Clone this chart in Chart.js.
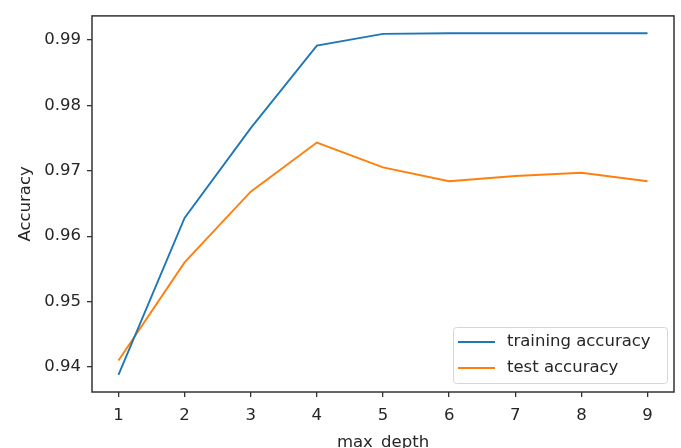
<!DOCTYPE html>
<html>
<head>
<meta charset="utf-8">
<script src="https://cdn.jsdelivr.net/npm/chart.js@4"></script>
<style>
  html, body { margin: 0; padding: 0; background: #fff; }
  #wrap { width: 681px; height: 448px; }
</style>
</head>
<body>
<div id="wrap"><canvas id="accChart" width="681" height="448"></canvas></div>
<script>
// ========== DATOS ==========
const depths = [1, 2, 3, 4, 5, 6, 7, 8, 9];
const trainAcc = [0.9388, 0.9628, 0.9765, 0.9891, 0.9909, 0.9910, 0.9910, 0.9910, 0.9910];
const testAcc = [0.9410, 0.9560, 0.9668, 0.9743, 0.9705, 0.9684, 0.9692, 0.9697, 0.9684];
const xTicks = [1, 2, 3, 4, 5, 6, 7, 8, 9];
const yTicks = [0.94, 0.95, 0.96, 0.97, 0.98, 0.99];

const FONT = "'DejaVu Sans', sans-serif";
const TEXT = "#262626";

// ========== MARCO (spines) ==========
const framePlugin = {
  id: "frame",
  afterDatasetsDraw(chart) {
    const { ctx, chartArea: a } = chart;
    ctx.save();
    ctx.strokeStyle = "#333";
    ctx.lineWidth = 1.5;
    ctx.strokeRect(a.left, a.top, a.right - a.left, a.bottom - a.top);
    ctx.restore();
  }
};

// ========== LEYENDA (abajo a la derecha) ==========
const legendPlugin = {
  id: "boxLegend",
  afterDraw(chart) {
    const { ctx, chartArea: a } = chart;
    const w = 214, h = 56;
    const x = a.right - 7 - w, y = a.bottom - 9 - h;
    ctx.save();
    ctx.fillStyle = "rgba(255,255,255,0.85)";
    ctx.strokeStyle = "#d6d6d6";
    ctx.lineWidth = 1;
    ctx.beginPath();
    ctx.roundRect(x + 0.5, y + 0.5, w, h, 3);
    ctx.fill();
    ctx.stroke();
    ctx.font = "16.5px " + FONT;
    ctx.textBaseline = "middle";
    chart.data.datasets.forEach((ds, i) => {
      const ly = y + 15 + i * 26;
      ctx.strokeStyle = ds.borderColor;
      ctx.lineWidth = 2;
      ctx.beginPath();
      ctx.moveTo(x + 5, ly);
      ctx.lineTo(x + 42, ly);
      ctx.stroke();
      ctx.fillStyle = TEXT;
      ctx.fillText(ds.label, x + 54, ly);
    });
    ctx.restore();
  }
};

const ctx = document.getElementById("accChart").getContext("2d");

new Chart(ctx, {
  type: "line",
  data: {
    datasets: [
      {
        label: "training accuracy",
        data: depths.map((d, i) => ({ x: d, y: trainAcc[i] })),
        borderColor: "#1f77b4",
        borderWidth: 1.9,
        pointRadius: 0,
        tension: 0,
        fill: false
      },
      {
        label: "test accuracy",
        data: depths.map((d, i) => ({ x: d, y: testAcc[i] })),
        borderColor: "#ff7f0e",
        borderWidth: 1.9,
        pointRadius: 0,
        tension: 0,
        fill: false
      }
    ]
  },
  options: {
    responsive: false,
    animation: false,
    layout: { padding: { top: 14, right: 7, left: 0, bottom: 0 } },
    plugins: {
      legend: { display: false },
      tooltip: { enabled: false }
    },
    scales: {
      x: {
        type: "linear",
        min: 0.6,
        max: 9.4,
        afterFit: s => { s.height = 56; },
        afterBuildTicks: s => { s.ticks = xTicks.map(v => ({ value: v })); },
        grid: { drawOnChartArea: false, drawTicks: true, tickLength: 5, color: "#333", lineWidth: 1.3 },
        border: { display: false },
        ticks: { color: TEXT, font: { family: FONT, size: 16.5 }, padding: 9, maxRotation: 0 },
        title: {
          display: true,
          text: "max_depth",
          color: TEXT,
          font: { family: FONT, size: 16.5, lineHeight: 0.7 },
          padding: { top: 0, bottom: 0 }
        }
      },
      y: {
        type: "linear",
        min: 0.9362,
        max: 0.99365,
        afterFit: s => { s.width = 92; },
        afterBuildTicks: s => { s.ticks = yTicks.map(v => ({ value: v })); },
        grid: { drawOnChartArea: false, drawTicks: true, tickLength: 5, color: "#333", lineWidth: 1.3 },
        border: { display: false },
        ticks: {
          color: TEXT,
          font: { family: FONT, size: 16.5 },
          padding: 6,
          callback: v => v.toFixed(2)
        },
        title: {
          display: true,
          text: "Accuracy",
          color: TEXT,
          font: { family: FONT, size: 16.5, lineHeight: 1 },
          padding: { top: 17, bottom: 0 }
        }
      }
    }
  },
  plugins: [framePlugin, legendPlugin]
});
</script>
</body>
</html>
